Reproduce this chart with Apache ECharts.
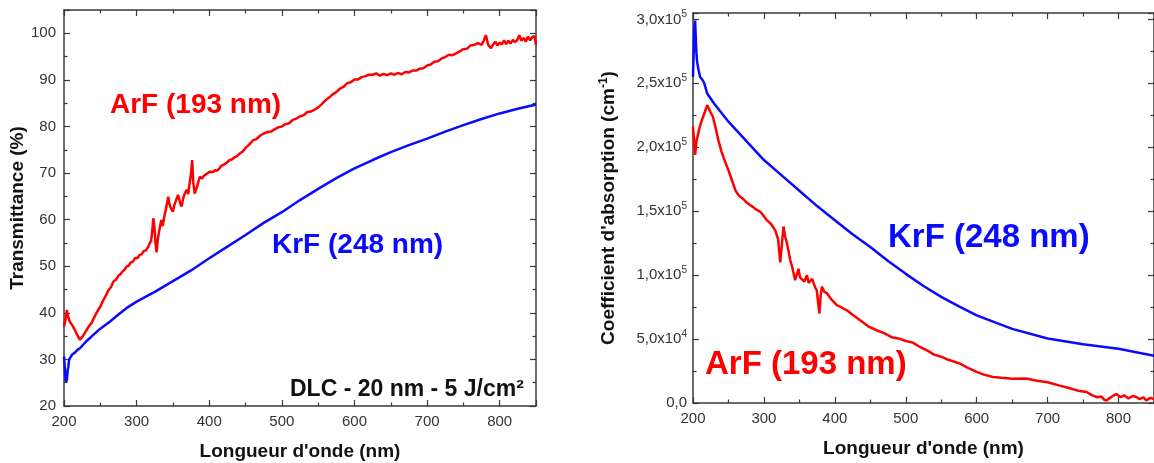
<!DOCTYPE html>
<html><head><meta charset="utf-8">
<script src="https://cdn.jsdelivr.net/npm/echarts@6/dist/echarts.min.js"></script>
<style>html,body{margin:0;padding:0;background:#fff}#c{width:1154px;height:463px}</style>
</head><body><div id="c"></div>
<script>
// ---------- Left panel: Transmittance (%) ----------
const transArF_nm = [200,202,204,205,206,208,210,212,215,218,220,222,224,226,228,231,235,238,240,244,247,250,254,258,261,265,268,272,275,278,280,283,286,289,292,295,298,301,304,307,310,313,316,318,320,321.5,323,324.5,326,327.5,329,331,334,336,338,340,342,343.5,345,347,350,352,354,357,359,360,362,364,366,369,371,373,375,376.5,378,380,382,384,387,390,392,396,398,401,405,408,411,414,417,420,424,428,431,435,438,442,446,450,455,460,465,470,475,480,485,490,495,500,505,510,515,520,525,530,535,540,545,550,555,560,565,570,575,580,585,590,595,600,605,610,615,620,625,630,635,640,645,650,655,660,665,670,675,680,685,690,695,700,705,710,715,720,725,730,735,740,745,750,755,760,765,770,775,778,781,784,788,791,794,797,800,803,806,809,812,815,818,821,824,827,830,833,836,839,842,845,848,850];
const transArF = [37,38.5,40.6,39.5,39.2,38.1,38.4,37.2,36.3,35.3,34.9,34.2,34.6,35,35.4,36.3,37.3,37.8,38.5,39.8,40.6,41.3,42.7,43.8,44.8,45.6,46.7,47.2,48,48.3,48.8,49.2,49.9,50.1,50.8,51,51.8,51.7,52.4,52.6,53.3,53.4,54.2,54.9,55.5,57.5,60.3,58.5,55,53,55.5,57.5,59.9,58.6,60.5,62,63.5,64.9,63.5,62.5,61.7,63.2,64,65.3,64.2,63.5,62.8,64.5,65.5,66.4,65.5,67.8,70,72.8,68,65.6,66.5,67.5,69.2,68.8,69.3,69.8,69.6,70.3,70.2,70.6,70.5,71,71.6,71.8,72.2,72.8,72.9,73.4,73.6,74.2,74.6,75.4,76.1,77,77.3,78,78.5,78.8,78.9,79.4,79.8,80,80.5,80.7,81.4,81.7,82.2,82.4,83.1,83.2,83.6,84.1,84.8,85.6,86.2,86.9,87.4,88.1,88.5,89.3,89.5,90.1,90.1,90.6,90.8,91.1,91.1,91.4,90.9,91.3,91.0,91.4,91.1,91.5,91.2,91.7,91.6,92.0,92.0,92.4,92.5,93.1,93.3,93.9,94.0,94.6,94.9,95.4,95.3,95.7,96.1,96.6,96.7,97.4,97.5,97.9,97.5,98.4,99.6,97.6,96.8,97.6,98.2,97.4,98,97.6,98.5,97.7,98.4,97.8,98.6,98.1,98.5,99.6,98.4,99,98.2,99.3,98.5,99.2,99.4,97.5];

const transKrF_nm = [200,201,202,203,204,205,206,207,209,211,213,216,219,222,226,230,235,240,245,250,256,263,270,278,286,293,300,325,350,375,400,425,450,475,500,525,550,575,600,625,650,675,700,725,750,775,800,825,850];
const transKrF = [30.6,28.5,25.8,25.2,25.8,27.5,28.5,29.9,30.5,31,31.3,31.6,32.1,32.4,33.1,33.8,34.5,35.2,35.9,36.6,37.3,38.1,39,40,41,41.7,42.4,44.5,46.8,49.1,51.7,54.2,56.7,59.3,61.6,64.2,66.6,68.9,71,72.8,74.5,76,77.4,78.9,80.3,81.6,82.8,83.8,84.7];

// ---------- Right panel: absorption coefficient (cm-1) ----------
const absKrF_nm = [200,201,202,203,204,205,206,208,210,213,216,220,230,240,250,275,300,325,350,375,400,425,450,475,500,525,550,575,600,650,700,750,800,850];
const absKrF = [2.55e5,2.75e5,2.95e5,2.99e5,2.85e5,2.72e5,2.66e5,2.6e5,2.55e5,2.53e5,2.5e5,2.42e5,2.34e5,2.27e5,2.2e5,2.05e5,1.9e5,1.78e5,1.66e5,1.54e5,1.43e5,1.32e5,1.22e5,1.11e5,1.01e5,0.915e5,0.83e5,0.755e5,0.685e5,0.58e5,0.505e5,0.46e5,0.425e5,0.37e5];

const absArF_nm = [200,201.5,203,205,207,210,213,217,220,222,225,228,232,236,240,245,250,255,260,265,270,275,280,285,290,295,300,304,310,316,320,323,325,327.6,330,332,335,337,340,344,348.7,351,353.5,357,360.6,363,365,368,370,372.5,374.6,376.5,378.3,380,381.7,385,388.7,395,402.8,410,417,425,435.6,447,459,470,480,490,500,510,520,530,540,550,560,576.5,590,600,610,623,635,650,670,685,700,717,730,745,755,763,770,776,780,783,788,792,797,803,808,814,820,825,830,835,839,845,850];
const absArF = [2.16e5,2.05e5,1.94e5,2.05e5,2.1e5,2.17e5,2.22e5,2.28e5,2.33e5,2.32e5,2.27e5,2.24e5,2.15e5,2.05e5,1.97e5,1.89e5,1.82e5,1.74e5,1.66e5,1.62e5,1.6e5,1.57e5,1.55e5,1.53e5,1.51e5,1.495e5,1.46e5,1.43e5,1.4e5,1.35e5,1.28e5,1.1e5,1.22e5,1.38e5,1.3e5,1.26e5,1.18e5,1.12e5,1.06e5,0.96e5,1.05e5,0.98e5,0.99e5,0.95e5,1.0e5,0.94e5,0.93e5,0.97e5,0.96e5,0.9e5,0.88e5,0.78e5,0.7e5,0.84e5,0.91e5,0.87e5,0.86e5,0.81e5,0.765e5,0.745e5,0.725e5,0.69e5,0.647e5,0.6e5,0.569e5,0.545e5,0.515e5,0.505e5,0.485e5,0.472e5,0.438e5,0.412e5,0.378e5,0.362e5,0.338e5,0.308e5,0.268e5,0.243e5,0.222e5,0.203e5,0.197e5,0.19e5,0.191e5,0.174e5,0.162e5,0.136e5,0.117e5,0.093e5,0.086e5,0.06e5,0.045e5,0.05e5,0.025e5,0.02e5,0.04e5,0.055e5,0.07e5,0.045e5,0.06e5,0.035e5,0.055e5,0.047e5,0.03e5,0.045e5,0.02e5,0.04e5,0.03e5];

const xTicks = [200,300,400,500,600,700,800];

const RED = '#ff0000', BLUE = '#0a0aff';
const FONT = 'Liberation Sans, Arial, sans-serif';
const AX = '#3a3a3a';

function zip(a, b) { return a.map((v, i) => [v, b[i]]); }

function xAxis(grid, pos, labels, name) {
  return {
    type: 'value', gridIndex: grid, position: pos, min: 200, max: 850, interval: 100,
    name: labels ? name : '', nameLocation: 'middle', nameGap: 36,
    nameTextStyle: { fontFamily: FONT, fontSize: 19, fontWeight: 'bold', color: '#111' },
    axisLine: { show: true, onZero: false, lineStyle: { color: AX, width: 1.5 } },
    axisTick: { show: true, inside: true, length: 6, lineStyle: { color: AX, width: 1.2 } },
    minorTick: { show: true, splitNumber: 2, length: 3.5, lineStyle: { color: AX, width: 1.2 } },
    splitLine: { show: false },
    axisLabel: { show: labels, showMaxLabel: false, margin: 8, fontFamily: FONT, fontSize: 15, color: '#333',
      formatter: v => xTicks.includes(v) ? String(v) : '' }
  };
}

function yAxisLeft(grid, pos, labels) {
  return {
    type: 'value', gridIndex: grid, position: pos, min: 20, max: 105, interval: 10,
    name: labels ? 'Transmittance (%)' : '', nameLocation: 'middle', nameGap: 34, nameRotate: 90,
    nameTextStyle: { fontFamily: FONT, fontSize: 19, fontWeight: 'bold', color: '#111' },
    axisLine: { show: true, onZero: false, lineStyle: { color: AX, width: 1.5 } },
    axisTick: { show: true, inside: true, length: 6, lineStyle: { color: AX, width: 1.2 } },
    minorTick: { show: true, splitNumber: 2, length: 3.5, lineStyle: { color: AX, width: 1.2 } },
    splitLine: { show: false },
    axisLabel: { show: labels, showMaxLabel: false, margin: 8, fontFamily: FONT, fontSize: 15, color: '#333',
      formatter: v => (v % 10 === 0 && v <= 100) ? String(v) : '' }
  };
}

function sciLabel(v) {
  if (v === 0) return '{b|0,0}';
  if (v > 300000) return '';
  const e = Math.floor(Math.log10(v) + 1e-9);
  const m = (v / Math.pow(10, e)).toFixed(1).replace('.', ',');
  return '{b|' + m + 'x10}{s|' + e + '}';
}

function yAxisRight(grid, pos, labels) {
  return {
    type: 'value', gridIndex: grid, position: pos, min: 0, max: 305000, interval: 50000,
    name: labels ? "Coefficient d'absorption (cm{s|-1})" : '', nameLocation: 'middle', nameGap: 73, nameRotate: 90,
    nameTextStyle: { fontFamily: FONT, fontSize: 19, fontWeight: 'bold', color: '#111', lineHeight: 22,
      rich: { s: { fontFamily: FONT, fontSize: 12, fontWeight: 'bold', color: '#111', lineHeight: 12, verticalAlign: 'top' } } },
    axisLine: { show: true, onZero: false, lineStyle: { color: AX, width: 1.5 } },
    axisTick: { show: true, inside: true, length: 6, lineStyle: { color: AX, width: 1.2 } },
    minorTick: { show: true, splitNumber: 2, length: 3.5, lineStyle: { color: AX, width: 1.2 } },
    splitLine: { show: false },
    axisLabel: { show: labels, showMaxLabel: false, margin: 6, formatter: sciLabel,
      rich: {
        b: { fontFamily: FONT, fontSize: 15, color: '#333', lineHeight: 20 },
        s: { fontFamily: FONT, fontSize: 10, color: '#333', lineHeight: 11, verticalAlign: 'top' }
      } }
  };
}

function line(xi, yi, data, color) {
  return { type: 'line', xAxisIndex: xi, yAxisIndex: yi, data, showSymbol: false, symbol: 'none',
    lineStyle: { color, width: 2.5 }, itemStyle: { color }, silent: true, clip: true };
}

function label(text, left, top, size, color) {
  return { type: 'text', left, top, silent: true,
    style: { text, fill: color, font: 'bold ' + size + 'px ' + FONT } };
}

const chart = echarts.init(document.getElementById('c'), null, { renderer: 'canvas' });
chart.setOption({
  animation: false,
  backgroundColor: '#fff',
  grid: [
    { left: 64, top: 10, width: 472, height: 396, outerBoundsMode: 'none' },
    { left: 693, top: 13, width: 461, height: 390, outerBoundsMode: 'none' }
  ],
  xAxis: [
    xAxis(0, 'bottom', true, "Longueur d'onde (nm)"),
    xAxis(0, 'top', false, ''),
    xAxis(1, 'bottom', true, "Longueur d'onde (nm)"),
    xAxis(1, 'top', false, '')
  ],
  yAxis: [
    yAxisLeft(0, 'left', true),
    yAxisLeft(0, 'right', false),
    yAxisRight(1, 'left', true),
    yAxisRight(1, 'right', false)
  ],
  series: [
    line(0, 0, zip(transKrF_nm, transKrF), BLUE),
    line(0, 0, zip(transArF_nm, transArF), RED),
    line(2, 2, zip(absKrF_nm, absKrF), BLUE),
    line(2, 2, zip(absArF_nm, absArF), RED)
  ],
  graphic: [
    label('ArF (193 nm)', 110, 91, 28, RED),
    label('KrF (248 nm)', 272, 231, 28, BLUE),
    label('DLC - 20 nm - 5 J/cm²', 290, 378, 23, '#111'),
    label('KrF (248 nm)', 888, 221, 33, BLUE),
    label('ArF (193 nm)', 705, 348, 33, RED)
  ]
});
</script>
</body></html>
